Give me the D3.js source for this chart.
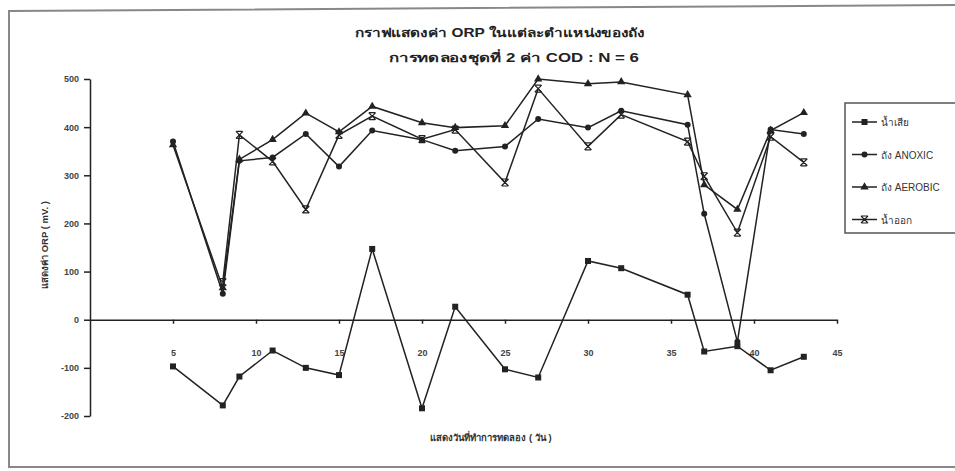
<!DOCTYPE html>
<html>
<head>
<meta charset="utf-8">
<script src="https://cdn.jsdelivr.net/npm/d3@7"></script>
<style>
    body { margin: 0; background: #fff; }
    svg { display: block; font-family: Arial, "Liberation Sans", "Noto Sans", "DejaVu Sans", sans-serif; }
    .axis text { font-size: 9px; font-weight: bold; fill: #444; }
    .axis path, .axis line { stroke: #222; stroke-width: 1.5; }
    .title { font-size: 12px; font-weight: bold; fill: #222; }
    .axis-title { font-size: 9.5px; font-weight: bold; fill: #333; }
    .legend text { font-size: 10px; fill: #333; }
</style>
</head>
<body>
<svg id="chart" width="955" height="471"></svg>
<script>
// Days of the experiment (x axis)
var days = [5, 8, 9, 11, 13, 15, 17, 20, 22, 25, 27, 30, 32, 36, 37, 39, 41, 43];

// ORP values (mV.)
var wasteWater = [-97, -178, -118, -64, -100, -115, 147, -184, 27, -103, -120, 122, 107, 52, -66, -55, -105, -77];
var anoxicTank = [370, 54, 330, 337, 386, 318, 393, 374, 351, 360, 417, 399, 434, 405, 220, -46, 395, 386];
var aerobicTank = [363, 66, 333, 374, 429, 390, 443, 409, 399, 403, 500, 490, 494, 467, 280, 229, 393, 430];
var effluent = [null, 78, 384, 329, 229, 384, 423, 375, 395, 285, 480, 360, 426, 370, 298, 181, 380, 327];

var seriesNames = ["น้ำเสีย", "ถัง  ANOXIC", "ถัง  AEROBIC", "น้ำออก"];
var seriesMarkers = ["square", "circle", "triangle", "cross"];

var yTicks = [-200, -100, 0, 100, 200, 300, 400, 500];
var xTicks = [5, 10, 15, 20, 25, 30, 35, 40, 45];

var titleLines = ["กราฟแสดงค่า ORP ในแต่ละตำแหน่งของถัง", "การทดลองชุดที่ 2  ค่า COD : N = 6"];
var yTitle = "แสดงค่า ORP ( mV. )";
var xTitle = "แสดงวันที่ทำการทดลอง ( วัน )";

var svg = d3.select("#chart");

// Scanned page frame
svg.append("path")
    .attr("d", "M960,5 L9,11 L9,467 L960,467")
    .attr("fill", "none")
    .attr("stroke", "#888")
    .attr("stroke-width", 2);

var x = d3.scaleLinear().domain([0, 45]).range([90, 837]);
var y = d3.scaleLinear().domain([-200, 500]).range([416, 79]);

// Titles, stretched to the width they take on the scan
var titleWidths = [290, 250];
svg.selectAll(".title")
    .data(titleLines)
    .enter()
    .append("text")
        .attr("class", "title")
        .attr("x", function(d, i) { return i == 0 ? 355 : 389 })
        .attr("y", function(d, i) { return 37 + i * 25 })
        .attr("textLength", function(d, i) { return titleWidths[i] })
        .attr("lengthAdjust", "spacingAndGlyphs")
        .text(function(d) { return d });

// Y axis
svg.append("g")
    .attr("class", "axis")
    .attr("transform", "translate(" + x(0) + ",0)")
    .call(d3.axisLeft(y).tickValues(yTicks).tickFormat(function(d) { return String(d) })
        .tickSize(6).tickSizeOuter(0).tickPadding(5));

// X axis sits on the zero line, labels hang well below it
svg.append("g")
    .attr("class", "axis")
    .attr("transform", "translate(0," + y(0) + ")")
    .call(d3.axisBottom(x).tickValues(xTicks).tickSize(4).tickSizeOuter(0).tickPadding(26));

svg.append("text")
    .attr("class", "axis-title")
    .attr("transform", "translate(48,245) rotate(-90)")
    .attr("text-anchor", "middle")
    .text(yTitle);

svg.append("text")
    .attr("class", "axis-title")
    .attr("x", 491)
    .attr("y", 441)
    .attr("text-anchor", "middle")
    .text(xTitle);

// Draws one marker of the given kind centred at (cx, cy)
function drawMarker(g, kind, cx, cy) {
    if (kind == "square") {
        g.append("rect").attr("x", cx - 3).attr("y", cy - 3).attr("width", 6).attr("height", 6).attr("fill", "#222");
    } else if (kind == "circle") {
        g.append("circle").attr("cx", cx).attr("cy", cy).attr("r", 3).attr("fill", "#222");
    } else if (kind == "triangle") {
        g.append("path").attr("d", d3.symbol().type(d3.symbolTriangle).size(30)()).attr("transform", "translate(" + cx + "," + cy + ")").attr("fill", "#222");
    } else {
        g.append("path")
            .attr("d", "M-3.5,-3.5L3.5,3.5M3.5,-3.5L-3.5,3.5M-3,-3.5H3M-3,3.5H3")
            .attr("transform", "translate(" + cx + "," + cy + ")")
            .attr("stroke", "#222").attr("stroke-width", 1.2).attr("fill", "none");
    }
}

var allSeries = [wasteWater, anoxicTank, aerobicTank, effluent];

var line = d3.line()
    .defined(function(d) { return d.v != null })
    .x(function(d) { return x(d.day) })
    .y(function(d) { return y(d.v) });

allSeries.forEach(function(values, s) {
    var pts = days.map(function(day, i) { return { day: day, v: values[i] } });
    var g = svg.append("g").attr("class", "series");
    g.append("path")
        .datum(pts)
        .attr("d", line)
        .attr("fill", "none")
        .attr("stroke", "#222")
        .attr("stroke-width", 1.5);
    pts.filter(function(d) { return d.v != null })
        .forEach(function(d) { drawMarker(g, seriesMarkers[s], x(d.day), y(d.v)) });
});

// Legend
var legend = svg.append("g").attr("class", "legend");
legend.append("rect")
    .attr("x", 845).attr("y", 103)
    .attr("width", 140).attr("height", 130)
    .attr("fill", "#fff").attr("stroke", "#555").attr("stroke-width", 1.5);

seriesNames.forEach(function(name, i) {
    var ly = 122 + i * 32.5;
    legend.append("line")
        .attr("x1", 852).attr("x2", 877).attr("y1", ly).attr("y2", ly)
        .attr("stroke", "#222").attr("stroke-width", 1.5);
    drawMarker(legend, seriesMarkers[i], 864.5, ly);
    legend.append("text")
        .attr("x", 881).attr("y", ly + 4)
        .text(name);
});
</script>
</body>
</html>
